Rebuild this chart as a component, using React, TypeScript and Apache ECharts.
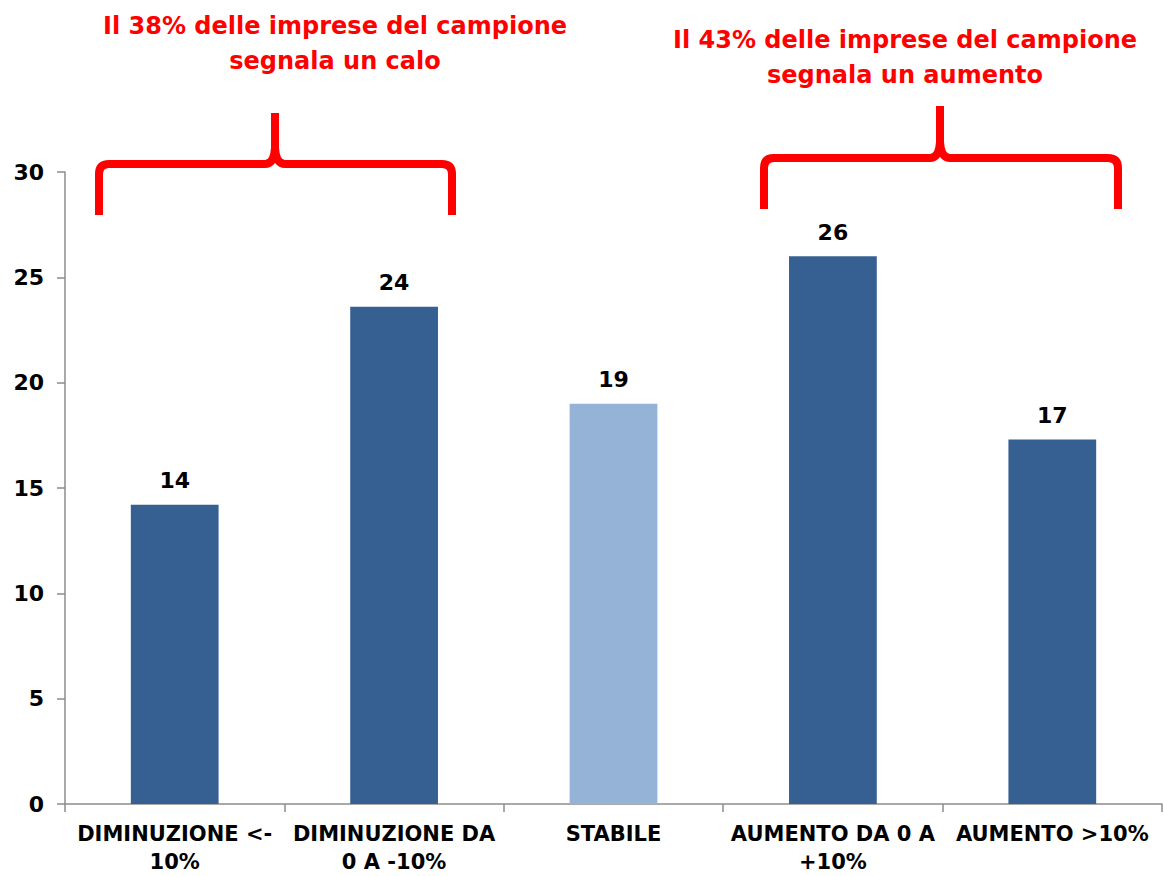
import React, { useEffect, useRef } from "react";
import * as echarts from "echarts";

const categories = [
  "DIMINUZIONE <-\n10%",
  "DIMINUZIONE DA\n0 A -10%",
  "STABILE",
  "AUMENTO DA 0 A\n+10%",
  "AUMENTO >10%",
];
const values = [14.2, 23.6, 19.0, 26.0, 17.3];
const barColors = ["#376092", "#376092", "#95B3D7", "#376092", "#376092"];
const yTicks = { min: 0, max: 30, interval: 5 };
const leftNote = "Il 38% delle imprese del campione\nsegnala un calo";
const rightNote = "Il 43% delle imprese del campione\nsegnala un aumento";

const FONT = "DejaVu Sans";

function bracePath(x1: number, x2: number, xm: number, yh: number, yb: number, ytop: number) {
  const r = 10;
  return (
    `M ${x1} ${yb} L ${x1} ${yh + r} Q ${x1} ${yh} ${x1 + r} ${yh} ` +
    `L ${xm - 10} ${yh} Q ${xm - 1} ${yh} ${xm} ${yh - 16} L ${xm} ${ytop} ` +
    `M ${xm} ${yh - 16} Q ${xm + 1} ${yh} ${xm + 10} ${yh} ` +
    `L ${x2 - r} ${yh} Q ${x2} ${yh} ${x2} ${yh + r} L ${x2} ${yb}`
  );
}

let registered = false;
function registerBraces() {
  if (registered) return;
  registered = true;
  echarts.graphic.registerShape(
    "braceLeft",
    echarts.graphic.extendPath(bracePath(99, 452, 275, 164, 215, 113), {}) as any
  );
  echarts.graphic.registerShape(
    "braceRight",
    echarts.graphic.extendPath(bracePath(764, 1118, 940, 158, 209, 106), {}) as any
  );
}

export default function App() {
  const ref = useRef<HTMLDivElement>(null);
  useEffect(() => {
    if (!ref.current) return;
    registerBraces();
    const chart = echarts.init(ref.current, undefined, { renderer: "svg" });
    const braceStyle = { stroke: "#FF0000", lineWidth: 8, fill: "none" };
    chart.setOption({
      animation: false,
      backgroundColor: "#ffffff",
      grid: { left: 65, right: 2, top: 172, bottom: 71 },
      xAxis: {
        type: "category",
        data: categories,
        axisLine: { lineStyle: { color: "#8c8c8c", width: 1.5 } },
        axisTick: { show: true, length: 8, lineStyle: { color: "#8c8c8c", width: 1.5 } },
        axisLabel: {
          interval: 0,
          color: "#000",
          fontFamily: FONT,
          fontWeight: "bold",
          fontSize: 21,
          lineHeight: 28,
          margin: 16,
        },
      },
      yAxis: {
        type: "value",
        min: yTicks.min,
        max: yTicks.max,
        interval: yTicks.interval,
        splitLine: { show: false },
        axisLine: { show: true, lineStyle: { color: "#8c8c8c", width: 1.5 } },
        axisTick: { show: true, length: 8, lineStyle: { color: "#8c8c8c", width: 1.5 } },
        axisLabel: {
          color: "#000",
          fontFamily: FONT,
          fontWeight: "bold",
          fontSize: 22,
          margin: 21,
        },
      },
      series: [
        {
          type: "bar",
          barWidth: "40%",
          data: values.map((v, i) => ({ value: v, itemStyle: { color: barColors[i] } })),
          label: {
            show: true,
            position: "top",
            distance: 13,
            color: "#000",
            fontFamily: FONT,
            fontWeight: "bold",
            fontSize: 22,
            formatter: (p: any) => String(Math.round(p.value)),
          },
        },
      ],
      graphic: [
        { type: "braceLeft", x: 0, y: 0, style: braceStyle },
        { type: "braceRight", x: 0, y: 0, style: braceStyle },
        {
          type: "text",
          x: 335,
          y: 8,
          style: {
            text: leftNote,
            fill: "#FF0000",
            font: `bold 24px "${FONT}"`,
            align: "center",
            lineHeight: 35,
          },
        },
        {
          type: "text",
          x: 905,
          y: 22,
          style: {
            text: rightNote,
            fill: "#FF0000",
            font: `bold 24px "${FONT}"`,
            align: "center",
            lineHeight: 35,
          },
        },
      ],
    });
    return () => chart.dispose();
  }, []);
  return (
    <div
      ref={ref}
      style={{ position: "fixed", left: 0, top: 0, width: 1164, height: 876 }}
    />
  );
}
